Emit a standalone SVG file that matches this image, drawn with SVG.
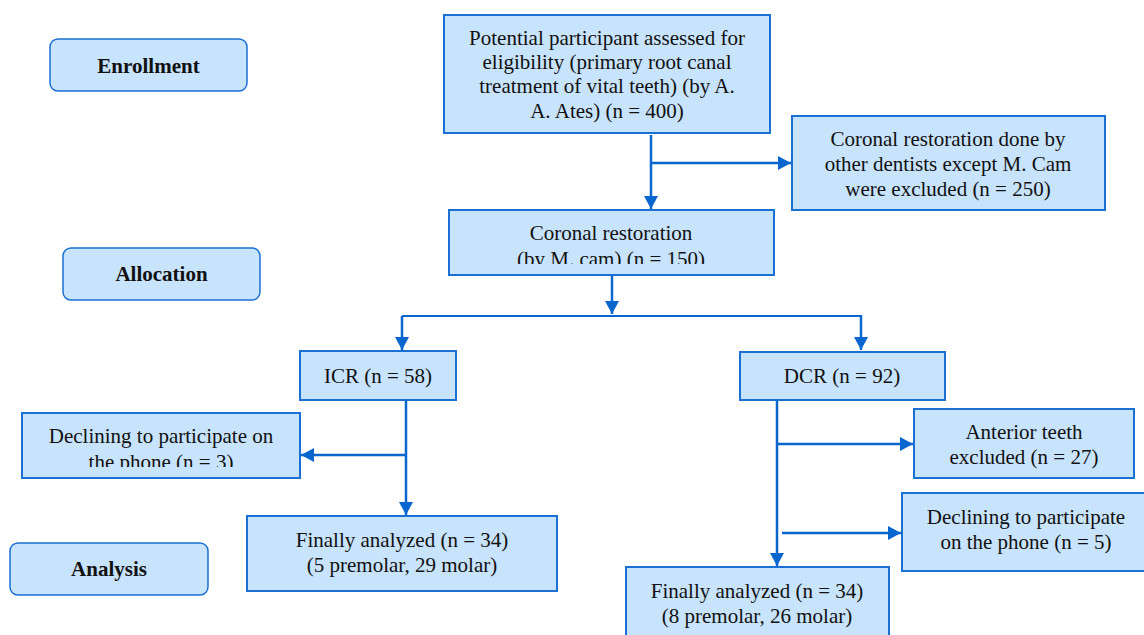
<svg xmlns="http://www.w3.org/2000/svg" width="1144" height="635" viewBox="0 0 1144 635">
<style>
.box{fill:#c8e3fc;stroke:#1b70d4;stroke-width:2}
.lbl{fill:#c8e3fc;stroke:#1b70d4;stroke-width:1.5}
.t{font-family:"Liberation Serif","Times New Roman",serif;font-size:21px;fill:#111;text-anchor:middle}
.b{font-family:"Liberation Serif","Times New Roman",serif;font-size:21px;font-weight:bold;fill:#111;text-anchor:middle}
.c{stroke:#0a66cf;stroke-width:2.5;fill:none}
</style>
<defs>
<marker id="ah" markerUnits="userSpaceOnUse" markerWidth="14" markerHeight="14" refX="13" refY="7" orient="auto">
<path d="M0,0 L13,7 L0,14 Z" fill="#0a66cf"/>
</marker>
<clipPath id="clipCor"><rect x="449" y="210" width="325" height="54"/></clipPath>
<clipPath id="clipDecL"><rect x="22" y="412" width="278" height="55"/></clipPath>
</defs>
<rect width="1144" height="635" fill="#fff"/>

<g id="enrollment">
<rect class="lbl" x="50" y="39" width="197" height="52" rx="8"/>
<text class="b" x="148.5" y="73">Enrollment</text>
</g>
<g id="allocation">
<rect class="lbl" x="63" y="248" width="197" height="52" rx="8"/>
<text class="b" x="161.5" y="281">Allocation</text>
</g>
<g id="analysis">
<rect class="lbl" x="10" y="543" width="198" height="52" rx="8"/>
<text class="b" x="109" y="576">Analysis</text>
</g>

<g id="potential">
<rect class="box" x="444" y="15" width="326" height="118"/>
<text class="t" x="607" y="45">Potential participant assessed for</text>
<text class="t" x="607" y="69">eligibility (primary root canal</text>
<text class="t" x="607" y="93">treatment of vital teeth) (by A.</text>
<text class="t" x="607" y="118">A. Ates) (n = 400)</text>
</g>
<g id="excluded-other">
<rect class="box" x="792" y="116" width="313" height="94"/>
<text class="t" x="948" y="146">Coronal restoration done by</text>
<text class="t" x="948" y="171">other dentists except M. Cam</text>
<text class="t" x="948" y="196">were excluded (n = 250)</text>
</g>
<g id="coronal">
<rect class="box" x="449" y="210" width="325" height="65"/>
<g clip-path="url(#clipCor)">
<text class="t" x="611" y="240">Coronal restoration</text>
<text class="t" x="611" y="266">(by M. cam) (n = 150)</text>
</g>
</g>
<g id="icr">
<rect class="box" x="300" y="351" width="156" height="49"/>
<text class="t" x="378" y="383">ICR (n = 58)</text>
</g>
<g id="dcr">
<rect class="box" x="740" y="352" width="205" height="48"/>
<text class="t" x="842" y="383">DCR (n = 92)</text>
</g>
<g id="declining-left">
<rect class="box" x="22" y="413" width="278" height="65"/>
<g clip-path="url(#clipDecL)">
<text class="t" x="161" y="443">Declining to participate on</text>
<text class="t" x="161" y="469">the phone (n = 3)</text>
</g>
</g>
<g id="anterior">
<rect class="box" x="914" y="409" width="220" height="69"/>
<text class="t" x="1024" y="439">Anterior teeth</text>
<text class="t" x="1024" y="464">excluded (n = 27)</text>
</g>
<g id="declining-right">
<rect class="box" x="902" y="493" width="250" height="78"/>
<text class="t" x="1026" y="524">Declining to participate</text>
<text class="t" x="1026" y="549">on the phone (n = 5)</text>
</g>
<g id="final-left">
<rect class="box" x="247" y="516" width="310" height="75"/>
<text class="t" x="402" y="547">Finally analyzed (n = 34)</text>
<text class="t" x="402" y="572">(5 premolar, 29 molar)</text>
</g>
<g id="final-right">
<rect class="box" x="626" y="567" width="263" height="75"/>
<text class="t" x="757" y="598">Finally analyzed (n = 34)</text>
<text class="t" x="757" y="623">(8 premolar, 26 molar)</text>
</g>

<g id="connectors">
<path class="c" d="M651,135 V209" marker-end="url(#ah)"/>
<path class="c" d="M651,163 H791" marker-end="url(#ah)"/>
<path class="c" d="M612,276 V314" marker-end="url(#ah)"/>
<path class="c" d="M402,316 H861" style="stroke-width:2"/>
<path class="c" d="M402,316 V350" marker-end="url(#ah)"/>
<path class="c" d="M861,315 V350" marker-end="url(#ah)"/>
<path class="c" d="M406,400 V515" marker-end="url(#ah)"/>
<path class="c" d="M406,455 H301" marker-end="url(#ah)"/>
<path class="c" d="M777,400 V566" marker-end="url(#ah)"/>
<path class="c" d="M777,444 H913" marker-end="url(#ah)"/>
<path class="c" d="M782,533 H901" marker-end="url(#ah)"/>
</g>
</svg>
